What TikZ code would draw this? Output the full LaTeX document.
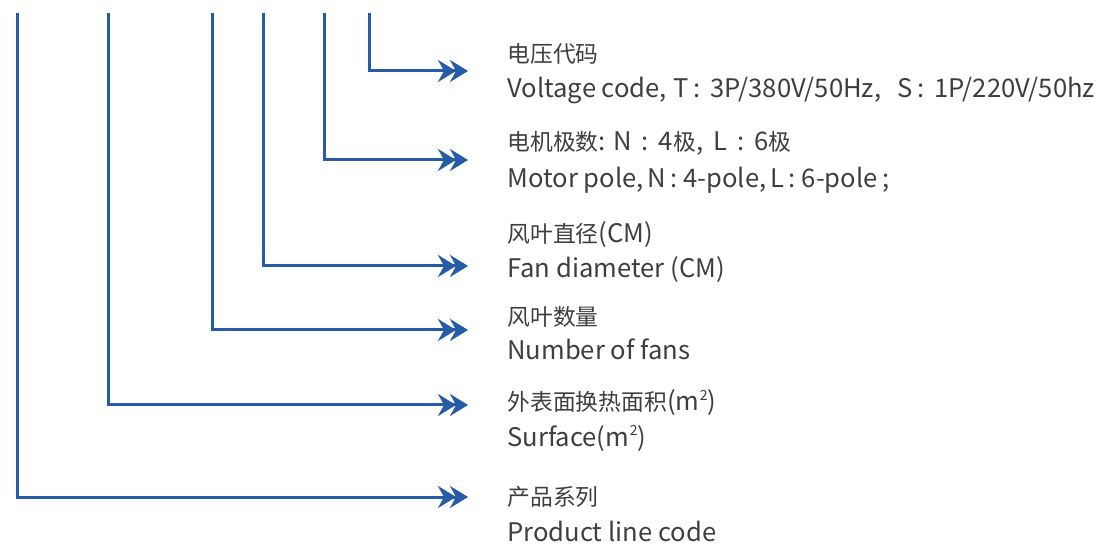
\documentclass[tikz,border=0pt]{standalone}
\usepackage{fontspec}
\newfontfamily\cjk{Noto Sans CJK SC}
\usepackage{tikz}
\usetikzlibrary{arrows.meta}

\definecolor{codeblue}{RGB}{38,92,166}
\definecolor{labelgray}{RGB}{62,62,62}
\newcommand\zh[1]{{\fontsize{11.4}{14}\selectfont #1}}
\newcommand\sqm{m\kern0.3pt\raisebox{0.42em}{\fontsize{7}{7}\selectfont 2}}

\begin{document}
\begin{tikzpicture}[
            x=0.5pt, y=-0.5pt,
            line cap=butt,
            code line/.style={
                draw=codeblue, line width=1.5pt,
                -{Stealth[length=9pt, width=11pt, inset=3pt, sep=-3pt]Stealth[length=9pt, width=11pt, inset=3pt]}
            },
            cn label/.style={anchor=base west, inner sep=0pt, text=labelgray,
                font=\cjk\fontsize{12.8}{15}\selectfont},
            en label/.style={cn label},
        ]
        \useasboundingbox (0,0) rectangle (1096,544);

        % tops of the six code positions
        \coordinate (top series) at (17,13);
        \coordinate (top surface) at (108,13);
        \coordinate (top fans) at (212,13);
        \coordinate (top diameter) at (263,13);
        \coordinate (top pole) at (324,13);
        \coordinate (top voltage) at (369,13);

        % arrow tips
        \coordinate (tip voltage) at (468,71);
        \coordinate (tip pole) at (468,160);
        \coordinate (tip diameter) at (468,266);
        \coordinate (tip fans) at (468,330);
        \coordinate (tip surface) at (468,405);
        \coordinate (tip series) at (468,497);

        \draw[code line] (top voltage) |- (tip voltage);
        \draw[code line] (top pole) |- (tip pole);
        \draw[code line] (top diameter) |- (tip diameter);
        \draw[code line] (top fans) |- (tip fans);
        \draw[code line] (top surface) |- (tip surface);
        \draw[code line] (top series) |- (tip series);

        \node[cn label] (voltage cn) at (507,63) {\zh{电压代码}};
        \node[en label] (voltage en) at (507,98) {Voltage code,\hspace{3pt}T\hspace{2.5pt}:\hspace{5pt}3P/380V/50Hz,\hspace{8pt}S\hspace{2.5pt}:\hspace{5pt}1P/220V/50hz};
        \node[cn label] (pole cn) at (507,151) {\zh{电机极数}: N\hspace{5pt}:\hspace{5pt}4\zh{极},\hspace{5pt}L\hspace{5pt}:\hspace{5pt}6\zh{极}};
        \node[en label] (pole en) at (507,188) {Motor pole,\,N\,:\ 4-pole,\,L\,:\ 6-pole\,;};
        \node[cn label] (diameter cn) at (507,243) {\zh{风叶直径}(CM)};
        \node[en label] (diameter en) at (507,278) {Fan diameter (CM)};
        \node[cn label] (fans cn) at (507,326) {\zh{风叶数量}};
        \node[en label] (fans en) at (507,360) {Number of fans};
        \node[cn label] (surface cn) at (507,411) {\zh{外表面换热面积}(\sqm)};
        \node[en label] (surface en) at (507,446) {Surface(\sqm)};
        \node[cn label] (series cn) at (507,505) {\zh{产品系列}};
        \node[en label] (series en) at (507,541) {Product line code};
\end{tikzpicture}
\end{document}
